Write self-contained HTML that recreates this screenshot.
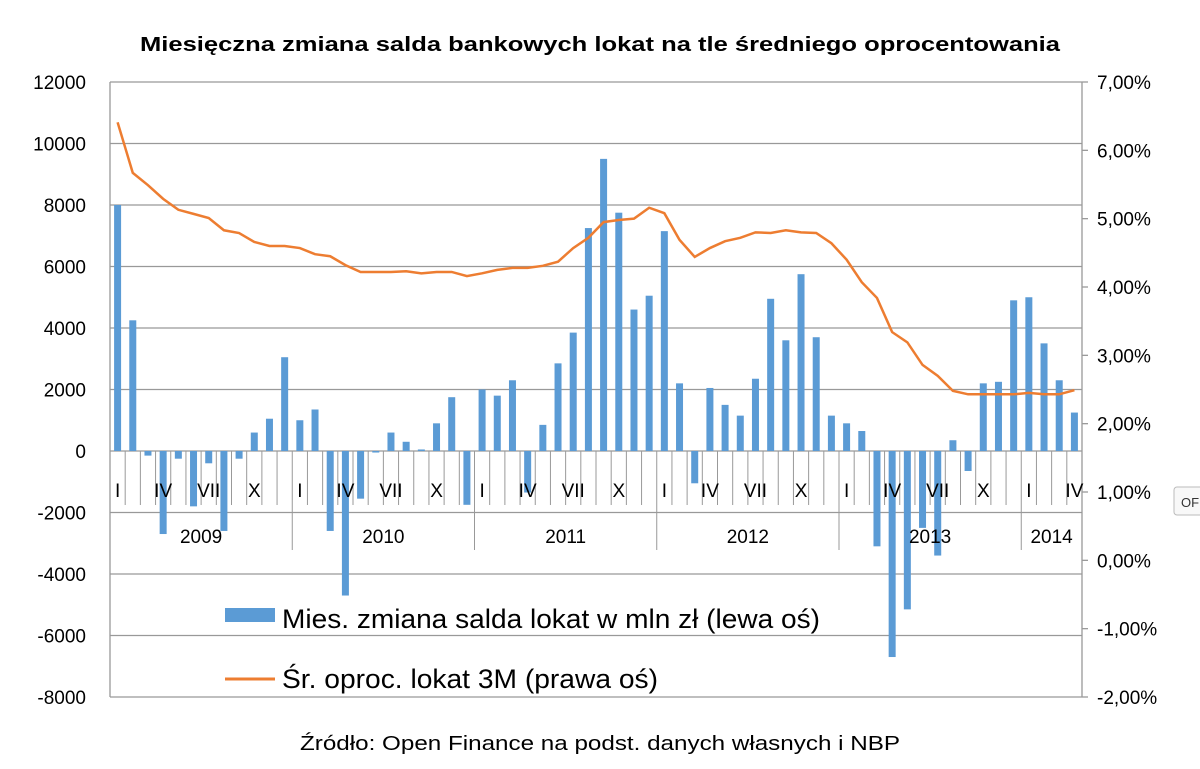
<!DOCTYPE html>
<html><head><meta charset="utf-8"><style>
body{margin:0;background:#fff;font-family:"Liberation Sans",sans-serif;}
#c{position:absolute;left:0;top:0;}
</style></head><body>
<svg id="c" width="1200" height="769" xmlns="http://www.w3.org/2000/svg" font-family="Liberation Sans, sans-serif"></svg>
<script>
const years=["2009","2010","2011","2012","2013","2014"];
const monthLabels=["I","","","IV","","","VII","","","X","",""];
const bars=[8000,4250,-150,-2700,-250,-1800,-400,-2600,-250,600,1050,3050,
1000,1350,-2600,-4700,-1550,-50,600,300,50,900,1750,-1750,
2000,1800,2300,-1350,850,2850,3850,7250,9500,7750,4600,5050,
7150,2200,-1050,2050,1500,1150,2350,4950,3600,5750,3700,1150,
900,650,-3100,-6700,-5150,-2500,-3400,350,-650,2200,2250,4900,
5000,3500,2300,1250];
const rate=[6.41,5.67,5.49,5.29,5.13,5.07,5.01,4.83,4.79,4.66,4.60,4.60,
4.57,4.48,4.45,4.32,4.22,4.22,4.22,4.23,4.20,4.22,4.22,4.16,
4.20,4.25,4.28,4.28,4.31,4.37,4.57,4.72,4.95,4.98,5.00,5.16,
5.08,4.69,4.44,4.57,4.67,4.72,4.80,4.79,4.83,4.80,4.79,4.64,
4.40,4.07,3.84,3.34,3.19,2.86,2.70,2.48,2.43,2.43,2.43,2.43,
2.45,2.43,2.43,2.49];
const leftTicks=[12000,10000,8000,6000,4000,2000,0,-2000,-4000,-6000,-8000];
const rightTicks=["7,00%","6,00%","5,00%","4,00%","3,00%","2,00%","1,00%","0,00%","-1,00%","-2,00%"];
const rightVals=[7,6,5,4,3,2,1,0,-1,-2];

const svg=document.getElementById('c');const NS="http://www.w3.org/2000/svg";
const X0=110,X1=1082,Y0=82,Y1=697;
const yL=v=>Y0+(12000-v)/20000*(Y1-Y0);
const yR=v=>Y0+(7-v)/9*(Y1-Y0);
const n=bars.length,step=(X1-X0)/n;
const xC=i=>X0+step*(i+0.5);
function el(t,a,txt){const e=document.createElementNS(NS,t);for(const k in a)e.setAttribute(k,a[k]);if(txt!==undefined)e.textContent=txt;svg.appendChild(e);return e;}

let e=el('text',{x:140,y:51,'font-size':20,'font-weight':'bold',fill:'#000',textLength:920,lengthAdjust:'spacingAndGlyphs'},'Miesięczna  zmiana salda bankowych  lokat na tle średniego  oprocentowania');


leftTicks.forEach(v=>{
 const g=el('line',{x1:X0,x2:X1,y1:yL(v),y2:yL(v),stroke:'#999','stroke-width':1.3});
 
 const t=el('text',{x:86,y:yL(v)+7,'text-anchor':'end','font-size':19,fill:'#000'},String(v));
 
});
rightVals.forEach((v,i)=>{
 const k=el('line',{x1:X1,x2:X1+6,y1:yR(v),y2:yR(v),stroke:'#999','stroke-width':1.3});
 
 const t=el('text',{x:1097,y:yR(v)+7,'font-size':19,fill:'#000'},rightTicks[i]);
 
});
e=el('line',{x1:X0,x2:X0,y1:Y0,y2:Y1,stroke:'#999','stroke-width':1.3});
e=el('line',{x1:X1,x2:X1,y1:Y0,y2:Y1,stroke:'#999','stroke-width':1.3});

bars.forEach((v,i)=>{
 const y=Math.min(yL(v),yL(0)),h=Math.abs(yL(v)-yL(0));
 const r=el('rect',{x:xC(i)-3.5,y:y,width:7,height:Math.max(h,0.5),fill:'#5b9bd5'});
 
});
const z=yL(0);
for(let i=0;i<=n;i++){
 const xx=X0+step*i;const yb=(i%12===0)?550:505;
 const l=el('line',{x1:xx,x2:xx,y1:z,y2:yb,stroke:'#999','stroke-width':1});
 
}
for(let i=0;i<n;i++){
 const m=monthLabels[i%12];if(!m)continue;
 const t=el('text',{x:xC(i),y:497,'text-anchor':'middle','font-size':19,fill:'#000'},m);
 
}
years.forEach((y,k)=>{
 const s=k*12,e2=Math.min(n,s+12);
 const t=el('text',{x:X0+step*(s+e2)/2,y:543,'text-anchor':'middle','font-size':19,fill:'#000'},y);
 
});
const pts=rate.map((v,i)=>xC(i)+','+yR(v)).join(' ');
e=el('polyline',{points:pts,fill:'none',stroke:'#ed7d31','stroke-width':2.5});


e=el('rect',{x:225,y:608,width:50,height:14,fill:'#5b9bd5'});
e=el('text',{x:282,y:628,'font-size':27,fill:'#000',textLength:538,lengthAdjust:'spacingAndGlyphs'},'Mies. zmiana salda lokat w mln zł (lewa oś)');
e=el('line',{x1:225,x2:275,y1:679,y2:679,stroke:'#ed7d31','stroke-width':3});
e=el('text',{x:282,y:688,'font-size':27,fill:'#000',textLength:376,lengthAdjust:'spacingAndGlyphs'},'Śr. oproc. lokat 3M (prawa oś)');
e=el('text',{x:300,y:750,'font-size':20,fill:'#000',textLength:600,lengthAdjust:'spacingAndGlyphs'},'Źródło: Open Finance na podst. danych własnych i NBP');
e=el('rect',{x:1174,y:487,width:30,height:28,rx:3,fill:'#f8f8f8',stroke:'#bbb'});
e=el('text',{x:1181,y:507,'font-size':13,fill:'#333'},'OF');
</script>
</body></html>
